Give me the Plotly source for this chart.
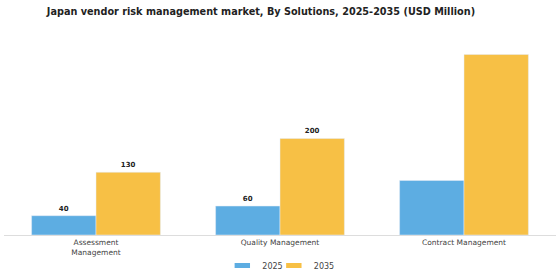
import plotly.graph_objects as go

categories = ["Assessment<br>Management", "Quality Management", "Contract Management"]
series_names = ["2025", "2035"]
values_2025 = [40, 60, 113]
values_2035 = [130, 200, 374]
labels_2025 = ["40", "60", ""]
labels_2035 = ["130", "200", ""]
colors = ["#5DADE2", "#F7C045"]

fig = go.Figure()
for name, vals, labs, col in zip(series_names, [values_2025, values_2035], [labels_2025, labels_2035], colors):
    fig.add_trace(go.Bar(name=name, x=categories, y=vals, text=labs,
                         textposition="outside", marker_color=col, showlegend=False,
                         textfont=dict(family="DejaVu Sans", size=7, color="#222222", weight="bold"),
                         cliponaxis=False))
for name, col, leg in zip(series_names, colors, ["legend", "legend2"]):
    fig.add_trace(go.Scatter(name=name, x=[None], y=[None], mode="markers", legend=leg,
                             marker=dict(symbol="line-ew", size=11, color=col,
                                         line=dict(width=5, color=col))))

leg_common = dict(orientation="h", xref="container", xanchor="left", yref="container",
                  y=0.0, yanchor="bottom", font=dict(size=8, color="#444444"),
                  itemsizing="trace", bgcolor="rgba(0,0,0,0)")

fig.update_layout(
    width=560, height=280,
    margin=dict(l=4, r=4, t=40, b=45, autoexpand=False),
    paper_bgcolor="white", plot_bgcolor="white",
    barmode="group", bargap=0.3, bargroupgap=0,
    font=dict(family="DejaVu Sans", color="#444444"),
    title=dict(text="<b>Japan vendor risk management market, By Solutions, 2025-2035 (USD Million)</b>",
               xref="container", x=0.466, xanchor="center", y=0.96, yanchor="middle",
               font=dict(family="DejaVu Sans", size=9.7, color="#222222")),
    legend=dict(x=0.397, **leg_common),
    legend2=dict(x=0.489, **leg_common),
    showlegend=True,
)
fig.update_xaxes(showline=True, linecolor="#dddddd", linewidth=1, ticks="", automargin=False,
                 tickfont=dict(size=7.5, color="#444444"), showgrid=False)
fig.update_yaxes(visible=False, range=[0, 404], showgrid=False, automargin=False)

fig.write_html("out.html")
